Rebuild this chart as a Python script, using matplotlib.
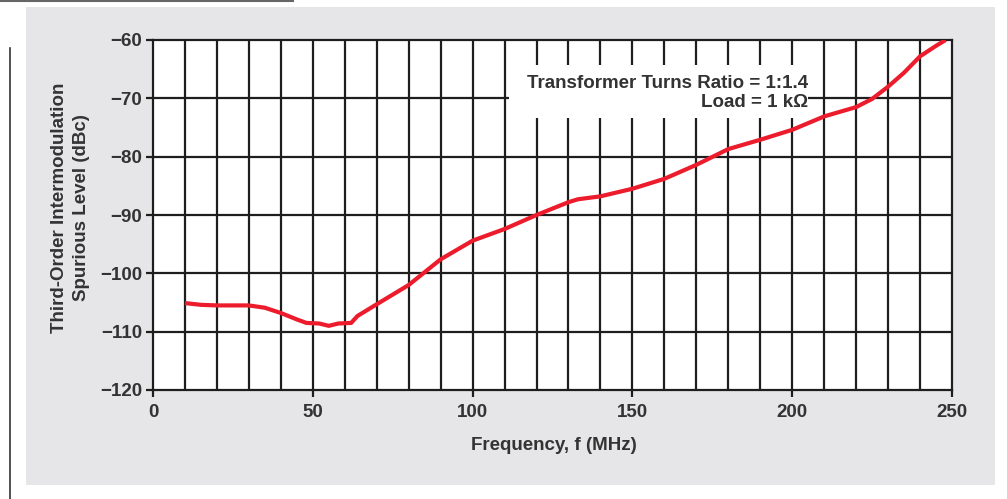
import matplotlib.pyplot as plt
from matplotlib.patches import Rectangle
from matplotlib.lines import Line2D

plt.rcParams['font.family'] = ['Liberation Sans', 'DejaVu Sans']

# third-order IMD spurious level vs frequency
freq_mhz = [10, 15, 20, 30, 35, 40, 45, 48, 52, 55, 58, 62, 64, 70, 80, 90, 100,
            110, 120, 130, 133, 140, 150, 160, 170, 180, 190, 200, 210, 220, 225,
            230, 235, 240, 245, 248]
imd_dbc = [-105.1, -105.4, -105.5, -105.5, -105.9, -106.8, -107.9, -108.5, -108.6,
           -109.0, -108.6, -108.5, -107.3, -105.3, -102.0, -97.6, -94.4,
           -92.4, -90.0, -87.8, -87.3, -86.8, -85.5, -83.8, -81.4, -78.7, -77.1,
           -75.4, -73.1, -71.5, -70.1, -68.0, -65.6, -62.8, -61.0, -60.0]

x_ticks = [0, 50, 100, 150, 200, 250]
y_ticks = [-120, -110, -100, -90, -80, -70, -60]
annotation = ['Transformer Turns Ratio = 1:1.4', 'Load = 1 k\u03a9']

text_color = '#333333'
grid_color = '#1e1e1e'
fs = 13.5

fig = plt.figure(figsize=(10.07, 4.99), dpi=100)

# grey backdrop panel and the page rules around it
fig.patches.append(Rectangle((26 / 1007, 1 - 485 / 499), (995 - 26) / 1007, (485 - 7) / 499,
                             transform=fig.transFigure, facecolor='#e6e6e8',
                             edgecolor='none', zorder=-10))
fig.lines.append(Line2D([0, 293 / 1007], [1 - 1 / 499, 1 - 1 / 499],
                        transform=fig.transFigure, color='#666666', lw=1.5))
fig.lines.append(Line2D([10 / 1007, 10 / 1007], [1 - 48 / 499, 0],
                        transform=fig.transFigure, color='#333333', lw=1.2))

ax = fig.add_axes([153 / 1007, 1 - 390 / 499, 799 / 1007, 350 / 499])
ax.set_zorder(5)
ax.set_facecolor('white')

ax.set_xlim(0, 250)
ax.set_ylim(-120, -60)
ax.set_xticks(x_ticks)
ax.set_yticks(y_ticks)

for v in range(10, 250, 10):
    ax.axvline(v, color=grid_color, lw=1.6, zorder=1)
for v in range(-110, -60, 10):
    ax.axhline(v, color=grid_color, lw=1.6, zorder=1)

for side in ['top', 'right', 'left', 'bottom']:
    ax.spines[side].set_color(grid_color)
    ax.spines[side].set_linewidth(1.6)

ax.tick_params(axis='y', which='major', direction='out', length=5, width=1.6,
               color=grid_color, labelsize=fs, labelcolor=text_color, pad=3)
ax.tick_params(axis='x', which='major', direction='out', length=5, width=1.6,
               color=grid_color, labelsize=fs, labelcolor=text_color, pad=5)
for lbl in ax.get_xticklabels() + ax.get_yticklabels():
    lbl.set_fontweight('bold')

# white box that clears the grid behind the annotation
ax.add_patch(Rectangle((111.5, -73.4), 93.5, 9.1, facecolor='white',
                       edgecolor='none', zorder=2))
ax.text(204.9, -67.4, annotation[0], ha='right', va='center', fontsize=fs,
        fontweight='bold', color=text_color, zorder=3)
ax.text(204.9, -70.8, annotation[1], ha='right', va='center', fontsize=fs,
        fontweight='bold', color=text_color, zorder=3)

ax.plot(freq_mhz, imd_dbc, color='#ec1c2c', lw=3, solid_capstyle='butt', zorder=4)

ax.set_xlabel('Frequency, f (MHz)', fontsize=fs, fontweight='bold',
              color=text_color, va='center')
ax.xaxis.set_label_coords(0.502, -0.16)
ax.set_ylabel('Third-Order Intermodulation\nSpurious Level (dBc)', fontsize=fs,
              fontweight='bold', color=text_color, linespacing=1.4, va='center')
ax.yaxis.set_label_coords(-0.103, 0.52)

fig.savefig('out.png', dpi=100)
